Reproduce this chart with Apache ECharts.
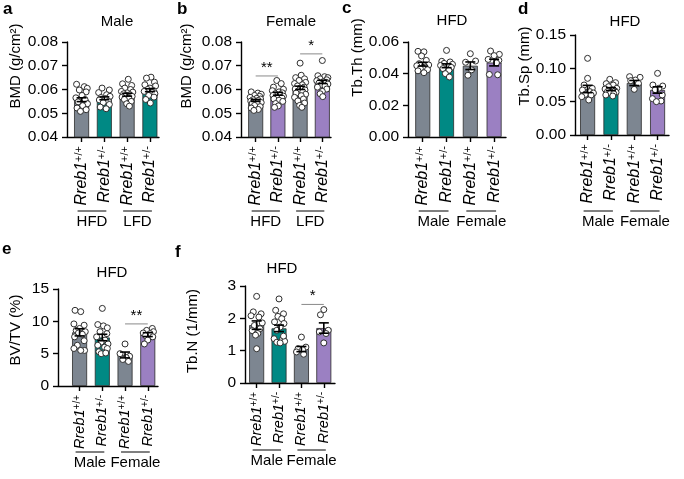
<!DOCTYPE html>
<html><head><meta charset="utf-8">
<script src="https://cdn.jsdelivr.net/npm/echarts@6/dist/echarts.min.js"></script>
<style>html,body{margin:0;padding:0;background:#fff}#c{width:684px;height:479px}</style>
</head><body><div id="c"></div>
<script>
// ---------- DATA ----------
const genotypes = ['+/+', '+/-', '+/+', '+/-'];
const dietGroups = ['HFD', 'LFD'];
const sexGroups = ['Male', 'Female'];

// a: BMD male
const aMean = [0.0557, 0.0563, 0.0578, 0.0597];
const aSem  = [0.0008, 0.0006, 0.0006, 0.0006];
const aPoints = [
  [0.0622,0.0612,0.0605,0.0598,0.0590,0.0575,0.0565,0.0558,0.0548,0.0540,0.0532,0.0522,0.0515,0.0508],
  [0.0606,0.0598,0.0587,0.0578,0.0571,0.0566,0.0562,0.0556,0.0550,0.0545,0.0537,0.0526,0.0519],
  [0.0643,0.0624,0.0617,0.0606,0.0600,0.0592,0.0589,0.0586,0.0582,0.0578,0.0575,0.0571,0.0568,0.0563,0.0558,0.0550,0.0540,0.0530],
  [0.0652,0.0648,0.0631,0.0620,0.0615,0.0606,0.0600,0.0596,0.0592,0.0587,0.0582,0.0575,0.0568,0.0558,0.0543]
];
const aJitter = [
  [-0.22,0.12,0.25,-0.1,0.2,0.02,-0.25,0.15,-0.15,0.26,0.05,-0.2,0.2,-0.05],
  [-0.1,0.22,-0.25,0.1,0.25,-0.15,0.05,-0.22,0.18,-0.05,0.22,-0.18,0.08],
  [0.05,-0.2,0.2,-0.1,0.15,-0.25,0.25,0.0,-0.15,0.12,-0.05,0.22,-0.22,0.08,-0.12,0.18,-0.02,0.1],
  [0.05,-0.15,0.2,-0.22,0.25,0.0,-0.1,0.15,-0.25,0.1,0.22,-0.05,0.18,-0.18,0.02]
];

// b: BMD female
const bMean = [0.0554, 0.0582, 0.0607, 0.0632];
const bSem  = [0.0004, 0.0006, 0.0007, 0.0007];
const bPoints = [
  [0.0590,0.0585,0.0580,0.0575,0.0571,0.0567,0.0563,0.0560,0.0557,0.0554,0.0551,0.0548,0.0545,0.0542,0.0538,0.0533,0.0528,0.0522,0.0516,0.0512],
  [0.0638,0.0625,0.0610,0.0601,0.0595,0.0590,0.0586,0.0582,0.0578,0.0575,0.0572,0.0568,0.0565,0.0560,0.0555,0.0550,0.0541,0.0531,0.0525],
  [0.0711,0.0660,0.0650,0.0645,0.0638,0.0630,0.0625,0.0620,0.0615,0.0610,0.0606,0.0602,0.0598,0.0594,0.0590,0.0585,0.0580,0.0574,0.0567,0.0560,0.0552,0.0543,0.0533,0.0525],
  [0.0722,0.0658,0.0654,0.0650,0.0645,0.0641,0.0637,0.0633,0.0630,0.0627,0.0623,0.0620,0.0615,0.0610,0.0602,0.0592,0.0582,0.0570]
];
const bJitter = [
  [-0.2,0.1,0.25,-0.05,0.18,-0.25,0.05,0.22,-0.12,0.12,-0.22,0.0,0.25,-0.15,0.08,-0.05,0.2,-0.2,0.12,-0.08],
  [-0.05,0.15,-0.2,0.25,-0.25,0.05,0.2,-0.12,0.1,-0.22,0.25,-0.05,0.18,-0.18,0.05,0.22,-0.1,0.02,-0.15],
  [0.0,0.05,-0.2,0.2,-0.05,0.25,-0.25,0.1,-0.12,0.18,0.0,-0.22,0.22,-0.08,0.12,-0.18,0.25,0.05,-0.25,0.15,-0.1,0.2,-0.02,0.08],
  [0.0,-0.2,0.1,0.25,-0.1,0.2,-0.25,0.05,0.18,-0.15,0.25,-0.05,0.12,-0.22,0.2,0.0,-0.1,0.02]
];
const bSig = [[0, 1, 0.0657], [2, 3, 0.0750]];
const bSigText = ['**', '*'];

// c: Tb.Th
const cMean = [0.0460, 0.0450, 0.0450, 0.0470];
const cSem  = [0.0012, 0.0012, 0.0024, 0.0021];
const cPoints = [
  [0.0541,0.0538,0.0512,0.0484,0.0463,0.0455,0.0450,0.0442,0.0436,0.0432,0.0425,0.0418,0.0406],
  [0.0547,0.0478,0.0474,0.0465,0.0459,0.0452,0.0446,0.0440,0.0432,0.0421,0.0400,0.0379],
  [0.0526,0.0480,0.0472,0.0424,0.0390],
  [0.0543,0.0522,0.0514,0.0490,0.0484,0.0468,0.0395,0.0393]
];
const cJitter = [
  [-0.2,0.05,-0.05,0.15,-0.15,0.25,-0.25,0.1,0.0,-0.1,0.2,-0.2,0.05],
  [0.0,-0.2,0.15,-0.1,0.25,-0.25,0.05,0.2,-0.15,0.1,-0.05,0.12],
  [0.0,0.22,-0.2,0.05,-0.1],
  [-0.15,0.22,0.0,-0.25,0.2,0.1,-0.2,0.15]
];

// d: Tb.Sp
const dMean = [0.0690, 0.0688, 0.0780, 0.0675];
const dSem  = [0.0055, 0.0022, 0.0038, 0.0048];
const dPoints = [
  [0.115,0.085,0.075,0.070,0.0675,0.065,0.063,0.061,0.060,0.0575,0.0525],
  [0.0835,0.0785,0.077,0.075,0.0725,0.070,0.069,0.068,0.066,0.065,0.064,0.063,0.062,0.060,0.0585],
  [0.0875,0.0865,0.0825,0.0815,0.0775,0.0685],
  [0.0925,0.075,0.0735,0.070,0.068,0.060,0.0545,0.051,0.050]
];
const dJitter = [
  [0.0,0.0,-0.15,0.2,-0.22,0.1,0.25,-0.1,0.15,-0.25,0.05],
  [-0.05,0.2,-0.2,0.1,-0.1,0.25,-0.25,0.05,0.18,-0.15,0.22,-0.02,0.12,-0.22,0.08],
  [-0.2,0.25,0.05,-0.15,0.18,0.0],
  [0.0,-0.2,0.22,0.05,-0.1,0.2,-0.22,0.15,-0.05]
];

// e: BV/TV
const eMean = [8.3, 7.5, 4.8, 7.95];
const eSem  = [0.55, 0.5, 0.45, 0.3];
const ePoints = [
  [11.7,11.5,9.6,9.4,8.9,8.6,8.4,8.2,8.0,7.6,7.0,6.3,5.8,5.5,5.5],
  [12.0,9.5,9.3,9.0,8.4,8.1,7.6,7.1,6.8,6.5,6.3,6.0,5.8,5.3,5.0,5.1],
  [6.5,5.0,4.6,4.4,4.1,3.8],
  [8.9,8.6,8.4,8.2,8.1,7.8,7.6,7.1,6.5]
];
const eJitter = [
  [-0.2,0.05,-0.25,0.2,0.0,-0.15,0.25,-0.05,0.12,-0.22,0.2,-0.1,-0.25,0.22,0.05],
  [0.0,-0.2,0.05,0.22,-0.1,0.2,-0.25,0.12,-0.05,0.25,-0.2,0.1,0.22,-0.15,-0.05,0.15],
  [0.0,-0.22,0.2,0.05,-0.1,0.15],
  [0.2,-0.05,0.25,-0.2,0.1,-0.1,0.22,0.0,-0.15]
];
const eSig = [[2, 3, 9.6]];
const eSigText = ['**'];

// f: Tb.N
const fMean = [1.79, 1.69, 1.05, 1.70];
const fSem  = [0.13, 0.10, 0.08, 0.16];
const fPoints = [
  [2.68,2.2,2.14,2.08,2.04,1.86,1.78,1.68,1.62,1.53,1.48,1.06],
  [2.6,2.25,2.14,2.06,1.99,1.89,1.84,1.73,1.63,1.37,1.34,1.29,1.26,1.24,1.45],
  [1.42,1.11,1.06,1.03,0.96,0.89],
  [2.27,2.11,1.63,1.58,1.53,1.24]
];
const fJitter = [
  [0.0,-0.15,0.2,-0.25,0.1,0.25,-0.1,0.15,-0.2,0.05,-0.05,0.0],
  [0.0,-0.15,0.2,-0.05,0.12,-0.2,0.22,0.05,-0.1,-0.22,0.15,0.25,-0.1,0.05,0.2],
  [0.0,0.2,-0.15,0.05,-0.22,0.1],
  [0.0,-0.15,0.2,-0.2,0.1,0.0]
];
const fSig = [[2, 3, 2.43]];
const fSigText = ['*'];

// ---------- STYLE / LAYOUT ----------
const FONT = '"Liberation Sans", Arial, Helvetica, sans-serif';
const GRAY = '#7d8691', TEAL = '#008984', PURPLE = '#9b80c2';

const panels = [
  {letter:'a', title:'Male', tx:117, ty:22, lx:3, ly:9,
   grid:{left:67, top:42, width:92, height:95}, xMin:-0.64, xMax:3.4,
   yMin:0.04, yMax:0.08, yInt:0.01, dec:2, yName:'BMD (g/cm²)', nameGap:44, namePad:47,
   mean:aMean, sem:aSem, pts:aPoints, jit:aJitter, colors:[GRAY,TEAL,GRAY,TEAL],
   groups:dietGroups, sig:[], sigText:[], lineOff:74, lf:16, sf:11},
  {letter:'b', title:'Female', tx:291, ty:22, lx:177, ly:9,
   grid:{left:241, top:42, width:90, height:95}, xMin:-0.66, xMax:3.39,
   yMin:0.04, yMax:0.08, yInt:0.01, dec:2, yName:'BMD (g/cm²)', nameGap:47, namePad:47,
   mean:bMean, sem:bSem, pts:bPoints, jit:bJitter, colors:[GRAY,PURPLE,GRAY,PURPLE],
   groups:dietGroups, sig:bSig, sigText:bSigText, lineOff:74, lf:16, sf:11},
  {letter:'c', title:'HFD', tx:452, ty:21, lx:342, ly:8,
   grid:{left:408, top:42, width:98, height:95}, xMin:-0.62, xMax:3.5,
   yMin:0, yMax:0.06, yInt:0.02, dec:2, yName:'Tb.Th (mm)', nameGap:43, namePad:64,
   mean:cMean, sem:cSem, pts:cPoints, jit:cJitter, colors:[GRAY,TEAL,GRAY,PURPLE],
   groups:sexGroups, sig:[], sigText:[], lineOff:74, lf:16, sf:11},
  {letter:'d', title:'HFD', tx:625, ty:22, lx:518, ly:9,
   grid:{left:575, top:35, width:94, height:100}, xMin:-0.54, xMax:3.49,
   yMin:0, yMax:0.15, yInt:0.05, dec:2, yName:'Tb.Sp (mm)', nameGap:38, namePad:38,
   mean:dMean, sem:dSem, pts:dPoints, jit:dJitter, colors:[GRAY,TEAL,GRAY,PURPLE],
   groups:sexGroups, sig:[], sigText:[], lineOff:76, lf:16, sf:11},
  {letter:'e', title:'HFD', tx:112, ty:273, lx:2, ly:249,
   grid:{left:58, top:289, width:100, height:97}, xMin:-0.95, xMax:3.45,
   yMin:0, yMax:15, yInt:5, dec:0, yName:'BV/TV (%)', nameGap:35, namePad:15,
   mean:eMean, sem:eSem, pts:ePoints, jit:eJitter, colors:[GRAY,TEAL,GRAY,PURPLE],
   groups:sexGroups, sig:eSig, sigText:eSigText, lineOff:66, lf:14.5, sf:10},
  {letter:'f', title:'HFD', tx:282, ty:269, lx:175, ly:252,
   grid:{left:245, top:286, width:90, height:97}, xMin:-0.52, xMax:3.5,
   yMin:0, yMax:3, yInt:1, dec:0, yName:'Tb.N (1/mm)', nameGap:45, namePad:7,
   mean:fMean, sem:fSem, pts:fPoints, jit:fJitter, colors:[GRAY,TEAL,GRAY,PURPLE],
   groups:sexGroups, sig:fSig, sigText:fSigText, lineOff:67, lf:14.5, sf:10}
];

const option = {
  animation: false,
  backgroundColor: '#fff',
  textStyle: {fontFamily: FONT},
  grid: [], xAxis: [], yAxis: [], series: [], graphic: []
};

const axisLineStyle = {color: '#000', width: 1.4};

panels.forEach((p, k) => {
  option.grid.push(Object.assign({containLabel: false}, p.grid));
  option.xAxis.push({
    type: 'value', gridIndex: k, min: p.xMin, max: p.xMax,
    splitLine: {show: false},
    axisLine: {show: true, onZero: false, lineStyle: axisLineStyle},
    axisTick: {show: true, length: 5, customValues: [0,1,2,3], lineStyle: axisLineStyle},
    axisLabel: {
      customValues: [0,1,2,3], rotate: 90, margin: 9,
      formatter: v => '{i|Rreb1}{s|' + genotypes[Math.round(v)] + '}',
      rich: {
        i: {fontStyle: 'italic', fontSize: p.lf, fontFamily: FONT, color: '#000'},
        s: {fontSize: p.sf, fontFamily: FONT, color: '#000', verticalAlign: 'top'}
      }
    }
  });
  option.yAxis.push({
    type: 'value', gridIndex: k, min: p.yMin, max: p.yMax, interval: p.yInt,
    splitLine: {show: false},
    axisLine: {show: true, onZero: false, lineStyle: axisLineStyle},
    axisTick: {show: true, length: 5, lineStyle: axisLineStyle},
    axisLabel: {fontSize: 15.5, color: '#000', fontFamily: FONT, margin: 9,
      formatter: v => v.toFixed(p.dec)},
    name: p.yName, nameLocation: 'middle', nameGap: p.nameGap,
    nameTextStyle: {fontSize: 15, color: '#000', fontFamily: FONT, padding: [0, 0, 0, p.namePad]}
  });

  // bars
  option.series.push({
    type: 'bar', xAxisIndex: k, yAxisIndex: k, barWidth: 15, z: 2,
    data: p.mean.map((m, i) => ({value: [i, m], itemStyle: {color: p.colors[i]}})),
    itemStyle: {borderColor: '#2b2b2b', borderWidth: 0.8}
  });
  // individual points
  const dots = [];
  p.pts.forEach((arr, i) => arr.forEach((v, j) => dots.push([i + p.jit[i][j], v])));
  option.series.push({
    type: 'scatter', xAxisIndex: k, yAxisIndex: k, z: 3, symbol: 'circle', symbolSize: 6,
    data: dots,
    itemStyle: {color: '#fff', borderColor: '#2e2e2e', borderWidth: 1, opacity: 1}
  });
  // error bars
  option.series.push({
    type: 'custom', xAxisIndex: k, yAxisIndex: k, z: 4,
    data: p.mean.map((m, i) => [i, m, p.sem[i]]),
    encode: {x: 0, y: 1},
    renderItem: (params, api) => {
      const x = api.value(0), m = api.value(1), s = api.value(2);
      const t = api.coord([x, m + s]), b = api.coord([x, m - s]);
      const w = 5, st = {stroke: '#000', lineWidth: 1.6};
      return {type: 'group', children: [
        {type: 'line', shape: {x1: t[0], y1: t[1], x2: b[0], y2: b[1]}, style: st},
        {type: 'line', shape: {x1: t[0]-w, y1: t[1], x2: t[0]+w, y2: t[1]}, style: st},
        {type: 'line', shape: {x1: b[0]-w, y1: b[1], x2: b[0]+w, y2: b[1]}, style: st}
      ]};
    }
  });
  // significance
  if (p.sig.length) {
    option.series.push({
      type: 'custom', xAxisIndex: k, yAxisIndex: k, z: 5,
      data: p.sig, encode: {x: [0, 1], y: 2},
      renderItem: (params, api) => {
        const a = api.coord([api.value(0), api.value(2)]);
        const b = api.coord([api.value(1), api.value(2)]);
        return {type: 'group', children: [
          {type: 'line', shape: {x1: a[0], y1: a[1], x2: b[0], y2: b[1]}, style: {stroke: '#8a8a8a', lineWidth: 1}},
          {type: 'text', style: {text: p.sigText[params.dataIndex], x: (a[0]+b[0])/2, y: a[1] - 1,
            textAlign: 'center', textVerticalAlign: 'bottom', align: 'center', verticalAlign: 'bottom',
            font: '15px ' + FONT, fill: '#000'}}
        ]};
      }
    });
  }
  // group labels under x axis
  option.series.push({
    type: 'custom', xAxisIndex: k, yAxisIndex: k, z: 5, clip: false,
    data: [[0, 1, p.yMin], [2, 3, p.yMin]], encode: {x: [0, 1], y: 2},
    renderItem: (params, api) => {
      const a = api.coord([api.value(0), api.value(2)]);
      const b = api.coord([api.value(1), api.value(2)]);
      const ly = a[1] + p.lineOff;
      return {type: 'group', children: [
        {type: 'line', shape: {x1: a[0]-4, y1: ly, x2: b[0]+2, y2: ly}, style: {stroke: '#000', lineWidth: 1}},
        {type: 'text', style: {text: p.groups[params.dataIndex], x: (a[0]+b[0])/2 - 1, y: ly + 10.5,
          textAlign: 'center', textVerticalAlign: 'middle', align: 'center', verticalAlign: 'middle',
          font: '15px ' + FONT, fill: '#000'}}
      ]};
    }
  });

  // panel title and letter
  option.graphic.push({type: 'text', x: p.tx, y: p.ty, style: {text: p.title, font: '15px ' + FONT, fill: '#000',
    textAlign: 'center', textVerticalAlign: 'middle', align: 'center', verticalAlign: 'middle'}});
  option.graphic.push({type: 'text', x: p.lx, y: p.ly, style: {text: p.letter, font: 'bold 17px ' + FONT, fill: '#000',
    textAlign: 'left', textVerticalAlign: 'middle', align: 'left', verticalAlign: 'middle'}});
});

const chart = echarts.init(document.getElementById('c'), null, {renderer: 'canvas'});
chart.setOption(option);
</script>
</body></html>
